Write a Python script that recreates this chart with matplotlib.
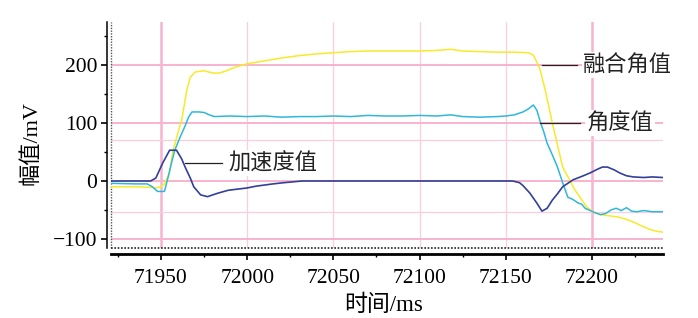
import numpy as np
import matplotlib as mpl
mpl.use('Agg')
import matplotlib.pyplot as plt

plt.rcParams['font.family'] = ['Liberation Serif', 'Noto Sans CJK SC', 'DejaVu Sans']
plt.rcParams['axes.unicode_minus'] = True

# fused angle (yellow)
t_fuse = [71921, 71935, 71944, 71947, 71950, 71952, 71955, 71957, 71960, 71962, 71965, 71967,
          71970, 71975, 71980, 71984, 71988, 71993, 72000, 72010, 72020, 72030, 72040, 72050,
          72060, 72070, 72080, 72090, 72100, 72110, 72118, 72125, 72135, 72145, 72155, 72163,
          72166, 72168, 72170, 72173, 72177, 72180, 72183, 72187, 72190, 72194, 72197, 72201,
          72205, 72210, 72215, 72220, 72225, 72230, 72234, 72238, 72241]
v_fuse = [-10, -10, -11, -12, -10, -5, 14, 53, 85, 105, 157, 179,
          188, 190, 186, 186, 190, 196, 202, 207, 212, 216, 219, 221,
          223, 224, 224, 224, 224, 225, 227, 224, 223, 222, 222, 221,
          217, 205, 191, 155, 100, 62, 24, 2, -15, -32, -45, -54,
          -58, -60, -62, -66, -72, -79, -84, -87, -88]

# angle (cyan)
t_ang = [71921, 71935, 71942, 71945, 71948, 71952, 71954, 71956, 71958, 71961, 71964, 71966,
         71968, 71972, 71975, 71978, 71981, 71990, 72000, 72010, 72020, 72030, 72040, 72050,
         72060, 72070, 72080, 72090, 72100, 72110, 72118, 72125, 72135, 72145, 72150, 72155,
         72160, 72163, 72166, 72168, 72170, 72172, 72174, 72177, 72180, 72183, 72186, 72189,
         72192, 72194, 72196, 72199, 72202, 72205, 72208, 72211, 72214, 72217, 72220, 72223,
         72226, 72230, 72235, 72241]
v_ang = [-4, -5, -5, -10, -18, -18, 5, 30, 53, 75, 95, 110,
         119, 119, 118, 114, 111, 112, 111, 112, 110, 111, 111, 112,
         111, 113, 112, 112, 113, 112, 114, 111, 110, 111, 112, 114,
         119, 124, 131, 122, 102, 85, 65, 45, 24, -3, -28, -32,
         -38, -40, -47, -51, -55, -58, -56, -50, -47, -51, -46, -52,
         -53, -51, -53, -53]

# acceleration (dark blue)
t_acc = [71921, 71944, 71947, 71951, 71955, 71959, 71962, 71964, 71967, 71969, 71973, 71977,
         71983, 71989, 72000, 72005, 72015, 72021, 72032, 72100, 72154, 72158, 72160, 72164,
         72168, 72171, 72174, 72177, 72180, 72183, 72189, 72195, 72199, 72203, 72206, 72209,
         72213, 72216, 72220, 72224, 72230, 72235, 72241]
v_acc = [0, 0, 5, 31, 53, 53, 38, 24, 5, -10, -24, -27,
         -21, -16, -12, -9, -5, -3, 0, 0, 0, -3, -8, -21,
         -38, -52, -47, -33, -22, -10, 2, 9, 14, 20, 24, 24,
         19, 14, 9, 7, 6, 7, 6]

labels = ['融合角值', '角度值', '加速度值']
x_major = [71950, 72000, 72050, 72100, 72150, 72200]
y_major = [-100, 0, 100, 200]

fig = plt.figure(figsize=(6.98, 3.18), dpi=100)
ax = fig.add_axes([111/698, 70/318, 552/698, 226/318])

pink = '#f7b3cf'
pink_l = '#f9cfe0'
# grid
for x in [71950, 72200]:
    ax.axvline(x, color=pink, lw=1.8, zorder=0)
for x in [72000, 72050, 72100, 72150]:
    ax.axvline(x, color=pink_l, lw=0.9, zorder=0)
for y in y_major:
    ax.axhline(y, color=pink, lw=1.4, zorder=0)
for y in [70, -53]:
    ax.axhline(y, color=pink_l, lw=0.9, zorder=0)

ax.plot(t_fuse, v_fuse, color='#f7ea2a', lw=1.1, zorder=3)
ax.plot(t_ang, v_ang, color='#2fb8d8', lw=1.1, zorder=4)
ax.plot(t_acc, v_acc, color='#33409a', lw=1.2, zorder=5)

ax.set_xlim(71921, 72241.2)
ax.set_ylim(-115.5, 274)

# dotted inner frame
ax.plot([0, 0], [0, 1], transform=ax.transAxes, color='#555555', lw=1.0, ls=(0, (1, 1)), clip_on=False)
ax.plot([0, 1], [0, 0], transform=ax.transAxes, color='#222222', lw=1.2, ls=(0, (1, 1)), clip_on=False)

for s in ['top', 'right']:
    ax.spines[s].set_visible(False)
ax.spines['left'].set_position(('outward', 3))
ax.spines['left'].set_linewidth(1.1)
ax.spines['bottom'].set_position(('outward', 4.5))
ax.spines['bottom'].set_linewidth(2)

ax.set_xticks(x_major)
ax.set_xticks([71925, 71975, 72025, 72075, 72125, 72175, 72225], minor=True)
ax.set_yticks(y_major)
ax.set_yticks([-50, 50, 150, 250], minor=True)
ax.set_yticklabels([str(v).replace('-', '\u2212') for v in y_major])
ax.tick_params(axis='both', which='major', length=4, width=1.2, labelsize=15.5)
ax.tick_params(axis='both', which='minor', length=2.5, width=1.0)
ax.tick_params(axis='x', pad=6.5)
ax.tick_params(axis='y', pad=3)

ax.set_xlabel('时间/ms', fontsize=16.5, va='center')
ax.xaxis.set_label_coords(0.493, -0.252)
ax.set_ylabel('幅值/mV', fontsize=16, va='center')
ax.yaxis.set_label_coords(-0.144, 0.465)

# annotations: leader line + label on white box
notes = [(labels[0], 72171, 72191.3, 200, 72194.8),
         (labels[1], 72170, 72193, 100, 72197),
         (labels[2], 71964, 71985.4, 31, 71989)]
for txt, x0, x1, y, xt in notes:
    ax.plot([x0, x1], [y, y], color='#222222', lw=0.9, zorder=6, clip_on=False)
    ax.text(xt, y, txt, fontsize=16, va='center', ha='left', zorder=7, clip_on=False,
            family=['Noto Sans CJK SC'], color='#222222',
            bbox=dict(facecolor='white', edgecolor='none', pad=1))

plt.savefig('out.png', dpi=100)
